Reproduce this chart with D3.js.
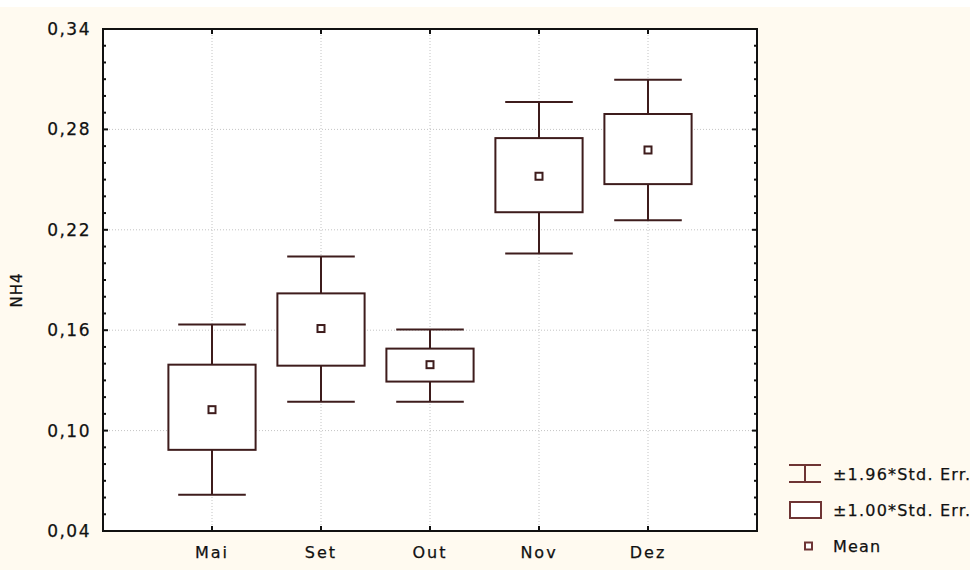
<!DOCTYPE html>
<html>
<head>
<meta charset="utf-8">
<script src="https://cdn.jsdelivr.net/npm/d3@7"></script>
<style>
  html, body { margin: 0; padding: 0; background: #fffaf0; }
  svg { display: block; }
  text { font-family: "DejaVu Sans", sans-serif; fill: #111; stroke: #111; stroke-width: 0.25px; }
</style>
</head>
<body>
<div id="chart"></div>
<script>
// values
const categories = ["Mai", "Set", "Out", "Nov", "Dez"];
const means      = [0.1125, 0.161, 0.1394, 0.252, 0.2677];
const boxLow     = [0.0885, 0.1388, 0.1293, 0.2305, 0.2473];
const boxHigh    = [0.1394, 0.182, 0.149, 0.2748, 0.2892];
const whiskLow   = [0.0616, 0.1173, 0.1173, 0.2059, 0.2257];
const whiskHigh  = [0.1634, 0.2041, 0.1604, 0.2964, 0.3096];
const yTicks     = [0.04, 0.10, 0.16, 0.22, 0.28, 0.34];
const legendLabels = ["\u00b11.96*Std. Err.", "\u00b11.00*Std. Err.", "Mean"];

function drawChart() {
    const width = 970;
    const height = 570;
    const plot = { left: 103, right: 757, top: 29, bottom: 531 };
    const ink = "#3e1c1c";

    const svg = d3.select("#chart")
        .append("svg")
        .attr("width", width)
        .attr("height", height);

    // white strip at the very top, rest is cream
    svg.append("rect").attr("x", 0).attr("y", 0).attr("width", width).attr("height", 7).attr("fill", "#ffffff");

    const x = d3.scaleLinear().domain([0, categories.length + 1]).range([plot.left, plot.right]);
    const y = d3.scaleLinear().domain([0.04, 0.34]).range([plot.bottom, plot.top]);
    const step = x(1) - x(0);

    // plot background
    svg.append("rect")
        .attr("x", plot.left).attr("y", plot.top)
        .attr("width", plot.right - plot.left).attr("height", plot.bottom - plot.top)
        .attr("fill", "#ffffff");

    // dotted grid
    svg.selectAll(".hgrid")
        .data(yTicks.slice(1, -1))
        .enter().append("line")
        .attr("x1", plot.left).attr("x2", plot.right)
        .attr("y1", d => y(d)).attr("y2", d => y(d))
        .attr("stroke", "#c4c4c4").attr("stroke-width", 1)
        .attr("stroke-dasharray", "1,2");

    svg.selectAll(".vgrid")
        .data(categories)
        .enter().append("line")
        .attr("x1", (d, i) => x(i + 1)).attr("x2", (d, i) => x(i + 1))
        .attr("y1", plot.top).attr("y2", plot.bottom)
        .attr("stroke", "#c4c4c4").attr("stroke-width", 1)
        .attr("stroke-dasharray", "1,2");

    // whiskers (1.96 SE)
    const g = svg.selectAll(".cat")
        .data(categories)
        .enter().append("g");

    g.append("line")
        .attr("x1", (d, i) => x(i + 1)).attr("x2", (d, i) => x(i + 1))
        .attr("y1", (d, i) => y(whiskLow[i])).attr("y2", (d, i) => y(whiskHigh[i]))
        .attr("stroke", ink).attr("stroke-width", 2);

    [whiskLow, whiskHigh].forEach(arr => {
        g.append("line")
            .attr("x1", (d, i) => x(i + 1) - step * 0.31).attr("x2", (d, i) => x(i + 1) + step * 0.31)
            .attr("y1", (d, i) => y(arr[i])).attr("y2", (d, i) => y(arr[i]))
            .attr("stroke", ink).attr("stroke-width", 2);
    });

    // boxes (1.00 SE)
    g.append("rect")
        .attr("x", (d, i) => x(i + 1) - step * 0.4)
        .attr("width", step * 0.8)
        .attr("y", (d, i) => y(boxHigh[i]))
        .attr("height", (d, i) => y(boxLow[i]) - y(boxHigh[i]))
        .attr("fill", "#ffffff").attr("stroke", ink).attr("stroke-width", 2);

    // means
    g.append("rect")
        .attr("x", (d, i) => x(i + 1) - 3.5)
        .attr("y", (d, i) => y(means[i]) - 3.5)
        .attr("width", 7).attr("height", 7)
        .attr("fill", "#ffffff").attr("stroke", ink).attr("stroke-width", 2);

    // frame
    svg.append("rect")
        .attr("x", plot.left).attr("y", plot.top)
        .attr("width", plot.right - plot.left).attr("height", plot.bottom - plot.top)
        .attr("fill", "none").attr("stroke", "#111").attr("stroke-width", 2);

    // inside ticks on left and right, major + minor every 0.01
    const minor = d3.range(4, 35).map(v => v / 100);
    [plot.left, plot.right].forEach((edge, k) => {
        const dir = k === 0 ? 1 : -1;
        svg.selectAll(null)
            .data(minor)
            .enter().append("line")
            .attr("x1", edge)
            .attr("x2", d => edge + dir * (Math.round(d * 100 - 4) % 6 === 0 ? 5 : 3))
            .attr("y1", d => y(d)).attr("y2", d => y(d))
            .attr("stroke", "#111").attr("stroke-width", 2);
    });

    // inside ticks on bottom and top
    [plot.bottom, plot.top].forEach((edge, k) => {
        const dir = k === 0 ? -1 : 1;
        svg.selectAll(null)
            .data(categories)
            .enter().append("line")
            .attr("x1", (d, i) => x(i + 1)).attr("x2", (d, i) => x(i + 1))
            .attr("y1", edge).attr("y2", edge + dir * 5)
            .attr("stroke", "#111").attr("stroke-width", 2);
    });

    // y tick labels
    svg.selectAll(".ylab")
        .data(yTicks)
        .enter().append("text")
        .attr("x", 91)
        .attr("y", d => y(d))
        .attr("text-anchor", "end")
        .attr("dominant-baseline", "central")
        .style("font-size", "17px")
        .style("letter-spacing", "1.5px")
        .text(d => d3.format(".2f")(d).replace(".", ","));

    // x tick labels
    svg.selectAll(".xlab")
        .data(categories)
        .enter().append("text")
        .attr("x", (d, i) => x(i + 1))
        .attr("y", 552)
        .attr("text-anchor", "middle")
        .attr("dominant-baseline", "central")
        .style("font-size", "16px")
        .style("letter-spacing", "2px")
        .text(d => d);

    // y axis title
    svg.append("text")
        .attr("transform", "translate(17,290) rotate(-90)")
        .attr("text-anchor", "middle")
        .attr("dominant-baseline", "central")
        .style("font-size", "15px")
        .style("letter-spacing", "1px")
        .text("NH4");

    // legend
    const lg = svg.append("g").attr("transform", "translate(789,0)");
    const rows = [474, 510, 546];
    const legInk = "#6e3434";

    // whisker icon
    lg.append("line").attr("x1", 0).attr("x2", 32).attr("y1", rows[0] - 9).attr("y2", rows[0] - 9)
        .attr("stroke", legInk).attr("stroke-width", 2);
    lg.append("line").attr("x1", 0).attr("x2", 32).attr("y1", rows[0] + 8).attr("y2", rows[0] + 8)
        .attr("stroke", legInk).attr("stroke-width", 2);
    lg.append("line").attr("x1", 16).attr("x2", 16).attr("y1", rows[0] - 9).attr("y2", rows[0] + 8)
        .attr("stroke", legInk).attr("stroke-width", 2);

    // box icon
    lg.append("rect").attr("x", 1).attr("y", rows[1] - 8).attr("width", 31).attr("height", 16)
        .attr("fill", "#ffffff").attr("stroke", legInk).attr("stroke-width", 2);

    // mean icon
    lg.append("rect").attr("x", 16).attr("y", rows[2] - 3.5).attr("width", 7).attr("height", 7)
        .attr("fill", "#ffffff").attr("stroke", legInk).attr("stroke-width", 2);

    lg.selectAll(".legtext")
        .data(legendLabels)
        .enter().append("text")
        .attr("x", 44)
        .attr("y", (d, i) => rows[i])
        .attr("dominant-baseline", "central")
        .style("font-size", "16px")
        .style("letter-spacing", "1.2px")
        .text(d => d);
}

drawChart();
</script>
</body>
</html>
